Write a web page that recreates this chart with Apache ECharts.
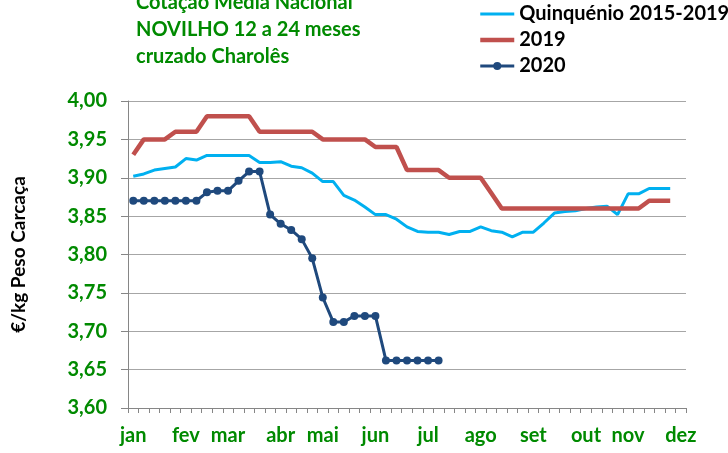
<!DOCTYPE html>
<html>
<head>
<meta charset="utf-8">
<script src="https://cdn.jsdelivr.net/npm/echarts@6/dist/echarts.min.js"></script>
<style>
  html, body { margin: 0; padding: 0; background: #fff; }
  #chart { width: 728px; height: 453px; }
</style>
</head>
<body>
<div id="chart"></div>
<script>
// weekly categories, month names on the week where each month starts
var weekLabels = ['jan', '', '', '', '', 'fev', '', '', '', 'mar', '', '', '', '', 'abr', '', '', '', 'mai', '', '', '', '',
    'jun', '', '', '', '', 'jul', '', '', '', '', 'ago', '', '', '', '', 'set', '', '', '', '', 'out', '', '', '',
    'nov', '', '', '', '', 'dez'];

var quinquenio = [3.902, 3.905, 3.910, 3.912, 3.914, 3.925, 3.923, 3.929, 3.929, 3.929, 3.929, 3.929,
    3.920, 3.920, 3.921, 3.915, 3.913, 3.906, 3.895, 3.895, 3.877, 3.871, 3.862, 3.852, 3.852, 3.846,
    3.836, 3.830, 3.829, 3.829, 3.826, 3.830, 3.830, 3.836, 3.831, 3.829, 3.823, 3.829, 3.829, 3.841,
    3.854, 3.856, 3.857, 3.860, 3.862, 3.863, 3.852, 3.879, 3.879, 3.886, 3.886, 3.886];

var ano2019 = [3.93, 3.95, 3.95, 3.95, 3.96, 3.96, 3.96, 3.98, 3.98, 3.98, 3.98, 3.98,
    3.96, 3.96, 3.96, 3.96, 3.96, 3.96, 3.95, 3.95, 3.95, 3.95, 3.95, 3.94, 3.94, 3.94,
    3.91, 3.91, 3.91, 3.91, 3.90, 3.90, 3.90, 3.90, 3.88, 3.86, 3.86, 3.86, 3.86, 3.86,
    3.86, 3.86, 3.86, 3.86, 3.86, 3.86, 3.86, 3.86, 3.86, 3.87, 3.87, 3.87];

var ano2020 = [3.87, 3.87, 3.87, 3.87, 3.87, 3.87, 3.87, 3.881, 3.883, 3.883, 3.896, 3.908, 3.908,
    3.852, 3.840, 3.832, 3.820, 3.795, 3.744, 3.712, 3.712, 3.720, 3.720, 3.720,
    3.662, 3.662, 3.662, 3.662, 3.662, 3.662];

var yMin = 3.60, yMax = 4.00, yStep = 0.05;

var green = '#008A00';
var font = 'Lato';

var myChart = echarts.init(document.getElementById('chart'));
var option = {
    animation: false,
    backgroundColor: '#fff',

    title: {
        text: 'Cotação Média Nacional\nNOVILHO 12 a 24 meses\ncruzado Charolês',
        left: 136,
        top: -11,
        padding: 0,
        textStyle: { color: green, fontFamily: font, fontWeight: 'bold', fontSize: 20, lineHeight: 27 }
    },

    // only the 2020 series shows its marker in the legend
    legend: {
        orient: 'vertical',
        left: 478,
        top: 1,
        padding: 0,
        itemWidth: 34,
        itemHeight: 10,
        itemGap: 0,
        textStyle: { color: '#000', fontFamily: font, fontWeight: 'bold', fontSize: 20, lineHeight: 26 },
        data: [
            { name: 'Quinquénio 2015-2019', itemStyle: { opacity: 0 }, lineStyle: { width: 3 } },
            { name: '2019', itemStyle: { opacity: 0 }, lineStyle: { width: 4.5 } },
            { name: '2020', lineStyle: { width: 3 } }
        ]
    },

    grid: { left: 128, right: 42, top: 101, bottom: 45 },

    xAxis: {
        type: 'category',
        boundaryGap: true,
        data: weekLabels,
        axisLine: { lineStyle: { color: '#868686', width: 1 } },
        axisTick: { show: true, interval: 0, length: 5, lineStyle: { color: '#868686' } },
        axisLabel: { interval: 0, margin: 18, color: green, fontFamily: font, fontWeight: 'bold', fontSize: 20 },
        splitLine: { show: false }
    },

    yAxis: {
        type: 'value',
        min: yMin,
        max: yMax,
        interval: yStep,
        name: '€/kg Peso Carcaça',
        nameLocation: 'middle',
        nameGap: 100,
        nameRotate: 90,
        nameTextStyle: { color: '#000', fontFamily: font, fontWeight: 'bold', fontSize: 19 },
        axisLine: { show: true, lineStyle: { color: '#868686', width: 1 } },
        axisTick: { show: true, length: 7, lineStyle: { color: '#868686' } },
        axisLabel: {
            margin: 21,
            color: green, fontFamily: font, fontWeight: 'bold', fontSize: 20,
            formatter: function (v) { return v.toFixed(2).replace('.', ','); }
        },
        splitLine: { lineStyle: { color: '#A6A6A6', width: 1 } }
    },

    series: [
        {
            name: 'Quinquénio 2015-2019',
            type: 'line',
            data: quinquenio,
            symbol: 'none',
            itemStyle: { color: '#00B0F0' },
            lineStyle: { color: '#00B0F0', width: 3 }
        },
        {
            name: '2019',
            type: 'line',
            data: ano2019,
            symbol: 'none',
            itemStyle: { color: '#C0504D' },
            lineStyle: { color: '#C0504D', width: 4.5 }
        },
        {
            name: '2020',
            type: 'line',
            data: ano2020,
            symbol: 'circle',
            symbolSize: 8,
            itemStyle: { color: '#1F497D' },
            lineStyle: { color: '#1F497D', width: 3 }
        }
    ]
};
myChart.setOption(option);
</script>
</body>
</html>
